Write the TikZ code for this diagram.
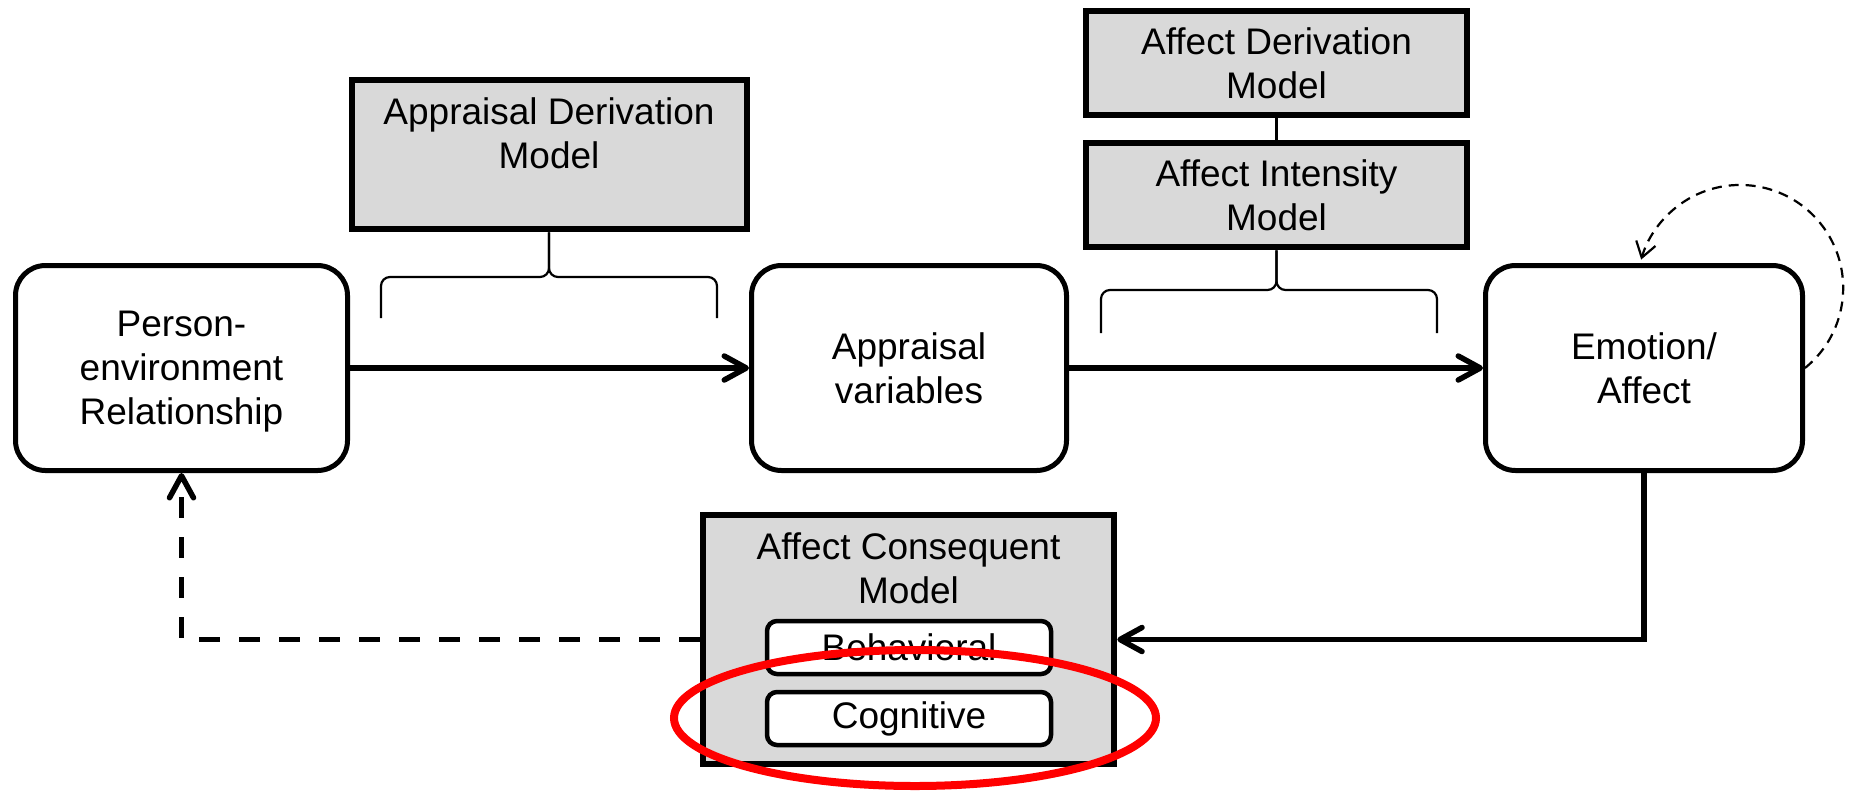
\documentclass[tikz,border=0pt]{standalone}
\usepackage{fontspec}
\setmainfont{Liberation Sans}
\usetikzlibrary{arrows.meta}
\definecolor{boxgray}{HTML}{D9D9D9}
\definecolor{markred}{HTML}{FF0000}
\begin{document}
\begin{tikzpicture}[x=1pt,y=-1pt,
  txt/.style={font=\fontsize{37}{44}\selectfont, align=center},
  rbox/.style={txt, draw, line width=5pt, rounded corners=30pt, fill=white, inner sep=0pt, text depth=0pt},
  gbox/.style={txt, draw, line width=6pt, fill=boxgray, inner sep=0pt, text depth=0pt},
  ibox/.style={txt, draw, line width=4.5pt, rounded corners=10pt, fill=white, inner sep=0pt, minimum width=284pt, minimum height=53pt},
  conn/.style={line width=5.5pt, -{Straight Barb[round,length=22pt,width=24pt]}},
  dconn/.style={conn, dash pattern=on 21pt off 19pt},
  thinline/.style={line width=2.2pt},
  loopconn/.style={line width=2.2pt, dash pattern=on 10pt off 7pt, -{Straight Barb[length=15pt,width=20pt]}},
  bracepath/.style={line width=2.2pt, rounded corners=9pt}
]
\useasboundingbox (0,0) rectangle (1849,793);

% main boxes
\node[rbox, minimum width=332pt, minimum height=205pt] (pe) at (181.5,368) {Person-\\environment\\Relationship};
\node[rbox, minimum width=315pt, minimum height=205pt] (av) at (909,368) {Appraisal\\variables};
\node[rbox, minimum width=317pt, minimum height=205pt] (emo) at (1644,368) {Emotion/\\Affect};

% model boxes
\node[gbox, minimum width=395pt, minimum height=149.5pt] (adm) at (549,154.5) {};
\node[txt, text depth=0pt] (admt) at (549,133.5) {Appraisal Derivation\\Model};
\node[gbox, minimum width=381.5pt, minimum height=104.5pt] (afd) at (1276.5,63) {Affect Derivation\\Model};
\node[gbox, minimum width=381.5pt, minimum height=104.5pt] (aim) at (1276.5,195) {Affect Intensity\\Model};
\node[gbox, minimum width=411.5pt, minimum height=249.5pt] (acm) at (908.5,639.5) {};
\node[txt, text depth=0pt] (acmt) at (908.5,568.5) {Affect Consequent\\Model};
\node[ibox] (beh) at (909,647.5) {Behavioral};
\node[ibox] (cog) at (909,718.5) {Cognitive};

% link between affect models
\draw[thinline] (afd.south) -- (aim.north);

% braces
\coordinate (b1l) at (381,318);
\coordinate (b1r) at (717,318);
\draw[bracepath] (b1l) -- (b1l |- 0,277) -- (adm.south |- 0,277) -- (adm.south);
\draw[bracepath] (b1r) -- (b1r |- 0,277) -- (adm.south |- 0,277) -- (adm.south);
\coordinate (b2l) at (1101,333);
\coordinate (b2r) at (1437,333);
\draw[bracepath] (b2l) -- (b2l |- 0,290) -- (aim.south |- 0,290) -- (aim.south);
\draw[bracepath] (b2r) -- (b2r |- 0,290) -- (aim.south |- 0,290) -- (aim.south);

% connectors
\draw[conn] (pe.east) -- (av.west);
\draw[conn] (av.east) -- (emo.west);
\draw[conn, line cap=butt] (emo.south) |- (acm.east);
\draw[dconn] (acm.west) -| (pe.south);
\draw[loopconn] (emo.east) arc[start angle=51, end angle=-164, radius=103];

% red highlight
\coordinate (mark) at (915,718);
\draw[markred, line width=8pt] (mark) ellipse [x radius=241, y radius=68];
\end{tikzpicture}
\end{document}
